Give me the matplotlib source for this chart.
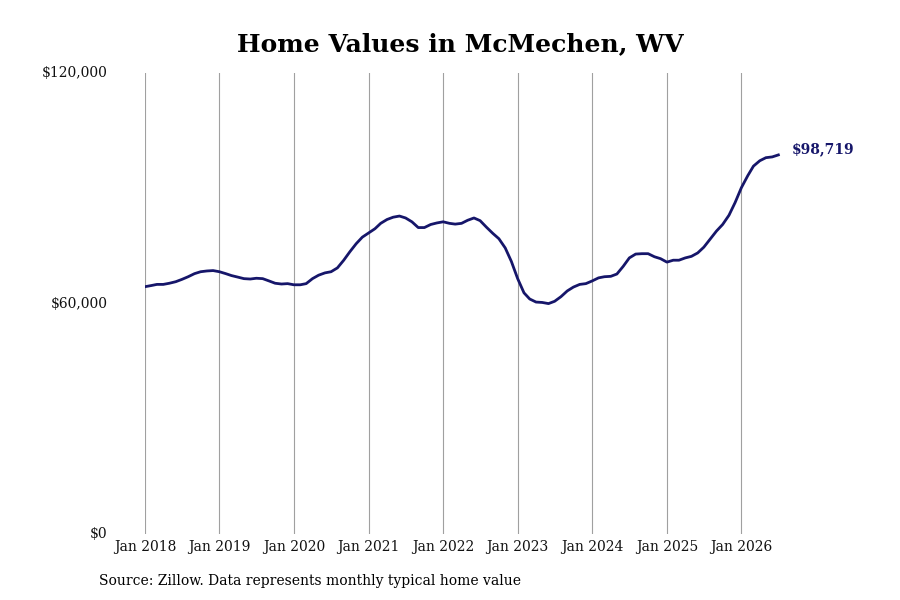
import pandas as pd
import matplotlib
matplotlib.use("Agg")
import matplotlib.pyplot as plt
import matplotlib.dates as mdates
from matplotlib.ticker import FuncFormatter

# monthly typical home value, Jan 2018 - Jul 2026
dates = pd.date_range("2018-01-01", "2026-07-01", freq="MS")
values = [
    64400, 64700, 65000, 65000, 65300, 65700, 66300, 67000, 67800, 68300, 68500, 68600,
    68300, 67800, 67300, 66900, 66500, 66400, 66600, 66500, 65900, 65300, 65100, 65200,
    64900, 64900, 65200, 66500, 67400, 68000, 68300, 69300, 71300, 73500, 75600, 77300,
    78400, 79500, 80900, 81900, 82500, 82800, 82300, 81300, 79800, 79800, 80600, 81000,
    81300, 80900, 80700, 80900, 81700, 82300, 81600, 79900, 78300, 76900, 74500, 71000,
    66500, 62800, 61200, 60400, 60300, 60000, 60600, 61800, 63300, 64300, 65000, 65200,
    65900, 66700, 67000, 67100, 67700, 69700, 71900, 72900, 73000, 73000, 72200, 71700,
    70800, 71300, 71300, 71900, 72300, 73200, 74700, 76800, 78900, 80600, 83000, 86300,
    90200, 93300, 95800, 97200, 98000, 98200, 98719,
]
y_ticks = [0, 60000, 120000]
tick_years = list(range(2018, 2027))

line_color = "#16166a"
plt.rcParams["font.family"] = ["DejaVu Serif"]

fig = plt.figure(figsize=(9, 6), dpi=100)
ax = fig.add_axes([0.161, 0.11, 0.717, 0.768])

ax.plot(dates, values, color=line_color, linewidth=2)

ax.set_ylim(0, 120000)
ax.set_yticks(y_ticks)
ax.yaxis.set_major_formatter(FuncFormatter(lambda v, p: f"${v:,.0f}"))
ax.set_xlim(pd.Timestamp("2018-01-01"), pd.Timestamp("2026-08-28"))
ax.set_xticks([pd.Timestamp(f"{y}-01-01") for y in tick_years])
ax.xaxis.set_major_formatter(mdates.DateFormatter("%b %Y"))

ax.grid(axis="x", color="#a0a0a0", linewidth=0.8)
ax.set_axisbelow(True)
for s in ax.spines.values():
    s.set_visible(False)
ax.tick_params(axis="both", length=0, labelsize=10, colors="#111111")
ax.tick_params(axis="y", pad=27)
ax.tick_params(axis="x", pad=4)
for lbl in ax.get_yticklabels():
    lbl.set_verticalalignment("center")

# last value label
ax.annotate(f"${values[-1]:,}", xy=(dates[-1], values[-1]), xytext=(10, 4),
            textcoords="offset points", color=line_color, fontsize=10,
            fontweight="bold", va="center", ha="left")

fig.text(0.512, 0.927, "Home Values in McMechen, WV", ha="center", va="center",
         fontsize=18, fontweight="bold")
fig.text(0.11, 0.031, "Source: Zillow. Data represents monthly typical home value",
         ha="left", va="center", fontsize=10)

fig.savefig("out.png", dpi=100)
